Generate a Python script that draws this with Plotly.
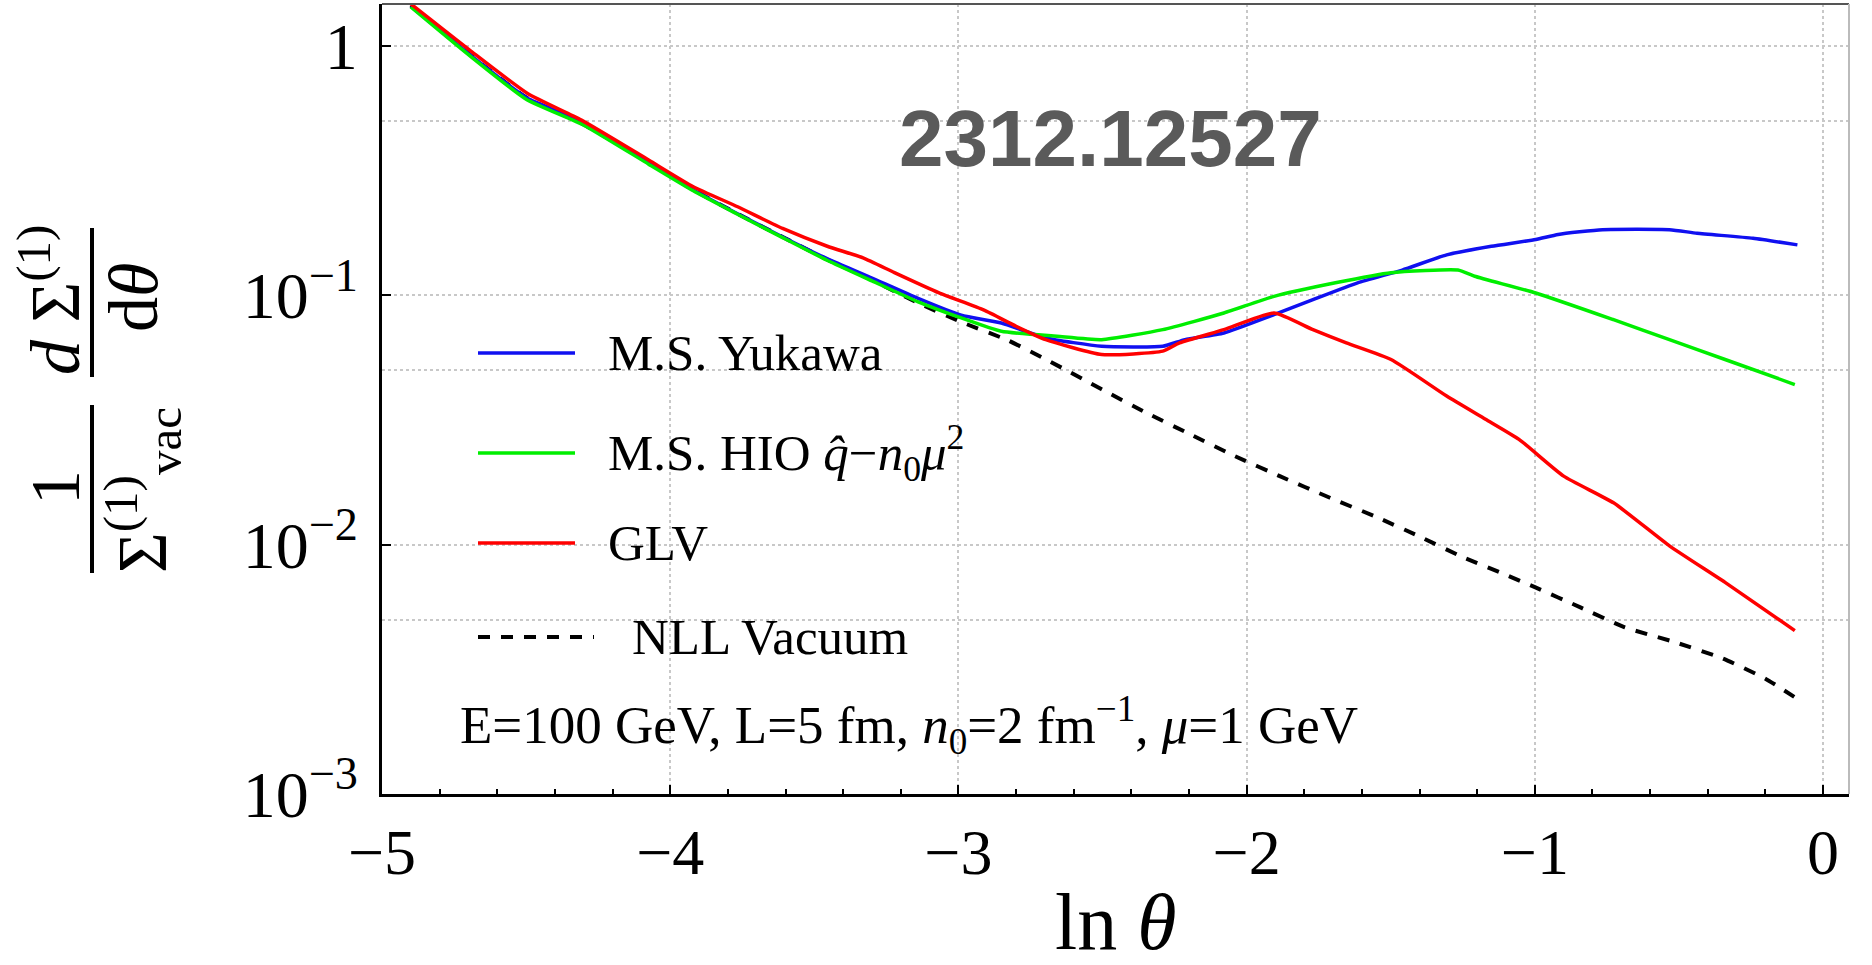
import plotly.graph_objects as go

# ---------------- data ----------------
x_nll = [-4.9, -4.7, -4.5, -4.31, -4.075, -3.92, -3.77, -3.61, -3.456, -3.30, -3.14, -2.99,
         -2.83, -2.68, -2.503, -2.349, -2.194, -2.04, -1.885, -1.711, -1.557, -1.402, -1.248,
         -1.093, -0.998, -0.842, -0.688, -0.514, -0.35, -0.2, -0.1]
y_nll = [1.45, 0.93, 0.62, 0.49, 0.34, 0.264, 0.213, 0.171, 0.139, 0.115, 0.093, 0.078,
         0.066, 0.054, 0.0419, 0.0338, 0.0276, 0.0226, 0.0188, 0.0154, 0.0130, 0.0108, 0.00888,
         0.0075, 0.00673, 0.0056, 0.00466, 0.00406, 0.0035, 0.0029, 0.00245]

x_yuk = [-4.9, -4.7, -4.5, -4.3, -4.075, -3.92, -3.77, -3.61, -3.456, -3.30, -3.14, -2.99,
         -2.851, -2.697, -2.503, -2.291, -2.214, -2.079, -1.905, -1.77, -1.615, -1.46, -1.306,
         -1.151, -0.997, -0.919, -0.765, -0.533, -0.437, -0.243, -0.089]
y_yuk = [1.44, 0.93, 0.62, 0.49, 0.34, 0.264, 0.213, 0.171, 0.140, 0.117, 0.097, 0.083,
         0.0773, 0.0673, 0.0624, 0.0624, 0.0663, 0.0705, 0.0835, 0.0959, 0.112, 0.126, 0.145,
         0.157, 0.167, 0.175, 0.183, 0.183, 0.177, 0.169, 0.159]

x_hio = [-4.9, -4.7, -4.5, -4.3, -4.075, -3.92, -3.77, -3.61, -3.456, -3.30, -3.14, -2.99,
         -2.851, -2.658, -2.503, -2.291, -2.079, -1.905, -1.692, -1.499, -1.267, -1.209,
         -0.997, -0.727, -0.533, -0.34, -0.098]
y_hio = [1.43, 0.92, 0.61, 0.48, 0.335, 0.262, 0.212, 0.170, 0.138, 0.114, 0.094, 0.081,
         0.0716, 0.0684, 0.0663, 0.0727, 0.0848, 0.0988, 0.112, 0.123, 0.126, 0.119,
         0.102, 0.0797, 0.0663, 0.0552, 0.0438]

x_glv = [-4.9, -4.696, -4.495, -4.308, -4.075, -3.92, -3.766, -3.61, -3.455, -3.331, -3.222,
         -3.067, -2.911, -2.80, -2.697, -2.503, -2.291, -2.233, -2.079, -1.905, -1.77, -1.654,
         -1.499, -1.306, -1.171, -1.055, -0.90, -0.727, -0.533, -0.34, -0.098]
y_glv = [1.47, 0.96, 0.643, 0.503, 0.348, 0.272, 0.226, 0.185, 0.157, 0.141, 0.123,
         0.102, 0.087, 0.075, 0.0663, 0.0578, 0.0596, 0.0643, 0.0727, 0.0848, 0.0727, 0.0643,
         0.0552, 0.0394, 0.0318, 0.0264, 0.0188, 0.0147, 0.00988, 0.00705, 0.00452]

series_names = ["M.S. Yukawa", "M.S. HIO <i>q̂</i>−<i>n</i><sub>0</sub><i>μ</i><sup>2</sup>",
                "GLV", "NLL Vacuum"]
x_ticks = [-5, -4, -3, -2, -1, 0]
x_tick_text = ["−5", "−4", "−3", "−2", "−1", "0"]
y_ticks = [1, 0.1, 0.01, 0.001]
y_tick_text = ["1", "10<sup>−1</sup>", "10<sup>−2</sup>", "10<sup>−3</sup>"]
y_grid_minor = [0.5, 0.05, 0.005]
params_text = "E=100 GeV, L=5 fm, <i>n</i><sub>0</sub>=2 fm<sup>−1</sup>, <i>μ</i>=1 GeV"
watermark = "2312.12527"

# ---------------- figure ----------------
SERIF = "Liberation Serif"
BLUE, GREEN, RED, BLACK = "#1010f0", "#00ee00", "#ff0000", "#000000"
SMOOTH = 0.5

fig = go.Figure()
fig.add_trace(go.Scatter(x=x_nll, y=y_nll, mode="lines", name="NLL Vacuum",
                         line=dict(color=BLACK, width=4, dash="12px,11px",
                                   shape="spline", smoothing=SMOOTH)))
fig.add_trace(go.Scatter(x=x_yuk, y=y_yuk, mode="lines", name="M.S. Yukawa",
                         line=dict(color=BLUE, width=3.5, shape="spline", smoothing=SMOOTH)))
fig.add_trace(go.Scatter(x=x_hio, y=y_hio, mode="lines", name="M.S. HIO",
                         line=dict(color=GREEN, width=3.5, shape="spline", smoothing=SMOOTH)))
fig.add_trace(go.Scatter(x=x_glv, y=y_glv, mode="lines", name="GLV",
                         line=dict(color=RED, width=3.5, shape="spline", smoothing=SMOOTH)))

W, H = 1872, 965
ML, MR, MT, MB = 382, 23, 4, 171
PW, PH = W - ML - MR, H - MT - MB


def px(xp):
    return (xp - ML) / PW


def py(yp):
    return (H - MB - yp) / PH


shapes = []
annotations = []

# frame (top / right)
shapes.append(dict(type="line", xref="paper", yref="paper", x0=0, x1=1, y0=1, y1=1,
                   line=dict(color="#555555", width=2)))
shapes.append(dict(type="line", xref="paper", yref="paper", x0=1, x1=1, y0=0, y1=1,
                   line=dict(color="#bbbbbb", width=2)))

# manual legend
leg_colors = [BLUE, GREEN, RED, BLACK]
leg_y = [353, 453, 543, 637]
for i, (nm, col, yy) in enumerate(zip(series_names, leg_colors, leg_y)):
    dashed = (col == BLACK)
    x1 = 594 if dashed else 575
    shapes.append(dict(type="line", xref="paper", yref="paper",
                       x0=px(478), x1=px(x1), y0=py(yy), y1=py(yy),
                       line=dict(color=col, width=4 if dashed else 3.5,
                                 dash="12px,11px" if dashed else "solid")))
    annotations.append(dict(xref="paper", yref="paper", x=px(630 if dashed else 606), y=py(yy),
                            xanchor="left", yanchor="middle", showarrow=False, text=nm,
                            font=dict(family=SERIF, size=51, color="black")))

annotations.append(dict(xref="paper", yref="paper", x=px(458), y=py(725),
                        xanchor="left", yanchor="middle", showarrow=False, text=params_text,
                        font=dict(family=SERIF, size=53, color="black")))

# watermark
annotations.append(dict(xref="paper", yref="paper", x=px(1110), y=py(138),
                        xanchor="center", yanchor="middle", showarrow=False,
                        text="<b>" + watermark + "</b>",
                        font=dict(family="Liberation Sans", size=80, color="#5a5a5a")))

# x axis title
annotations.append(dict(xref="paper", yref="paper", x=0.5, y=py(922),
                        xanchor="center", yanchor="middle", showarrow=False,
                        text="ln <i>θ</i>",
                        font=dict(family=SERIF, size=80, color="black")))

# y axis title: (1 / Σ^(1)_vac) (dΣ^(1)/dθ), rotated
ytitle_font = dict(family=SERIF, size=70, color="black")
annotations.append(dict(xref="paper", yref="paper", x=px(56), y=py(488), textangle=-90,
                        xanchor="center", yanchor="middle", showarrow=False,
                        text="1", font=ytitle_font))
annotations.append(dict(xref="paper", yref="paper", x=px(143), y=py(490), textangle=-90,
                        xanchor="center", yanchor="middle", showarrow=False,
                        text="Σ<sup>(1)</sup><sub>vac</sub>", font=ytitle_font))
annotations.append(dict(xref="paper", yref="paper", x=px(50), y=py(300), textangle=-90,
                        xanchor="center", yanchor="middle", showarrow=False,
                        text="<i>d</i> Σ<sup>(1)</sup>", font=ytitle_font))
annotations.append(dict(xref="paper", yref="paper", x=px(133), y=py(298), textangle=-90,
                        xanchor="center", yanchor="middle", showarrow=False,
                        text="d<i>θ</i>", font=ytitle_font))
shapes.append(dict(type="line", xref="paper", yref="paper", x0=px(92), x1=px(92),
                   y0=py(228), y1=py(377), line=dict(color="black", width=4)))
shapes.append(dict(type="line", xref="paper", yref="paper", x0=px(92), x1=px(92),
                   y0=py(405), y1=py(573), line=dict(color="black", width=4)))

fig.update_layout(
    width=W, height=H,
    margin=dict(l=ML, r=MR, t=MT, b=MB, pad=0),
    paper_bgcolor="white", plot_bgcolor="white",
    showlegend=False,
    shapes=shapes, annotations=annotations,
    xaxis=dict(range=[-5, 0.09], tickvals=x_ticks, ticktext=x_tick_text,
               ticks="inside", ticklen=9, tickwidth=2, tickcolor="black",
               showline=True, linecolor="black", linewidth=3,
               showgrid=True, gridcolor="#c8c8c8", griddash="dot", gridwidth=1.5,
               zeroline=False,
               tickfont=dict(family=SERIF, size=64, color="black"),
               minor=dict(dtick=0.2, ticks="inside", ticklen=5, tickwidth=1.5,
                          tickcolor="black", showgrid=False)),
    yaxis=dict(type="log", range=[-3, 0.167], tickvals=y_ticks, ticktext=y_tick_text,
               ticks="inside", ticklen=9, tickwidth=2, tickcolor="black",
               showline=True, linecolor="black", linewidth=3,
               showgrid=True, gridcolor="#c8c8c8", griddash="dot", gridwidth=1.5,
               zeroline=False, ticklabelstandoff=8,
               tickfont=dict(family=SERIF, size=66, color="black"),
               minor=dict(tickvals=y_grid_minor, ticks="", showgrid=True,
                          gridcolor="#c8c8c8", griddash="dot", gridwidth=1.5)),
)

fig.write_html("out.html")
